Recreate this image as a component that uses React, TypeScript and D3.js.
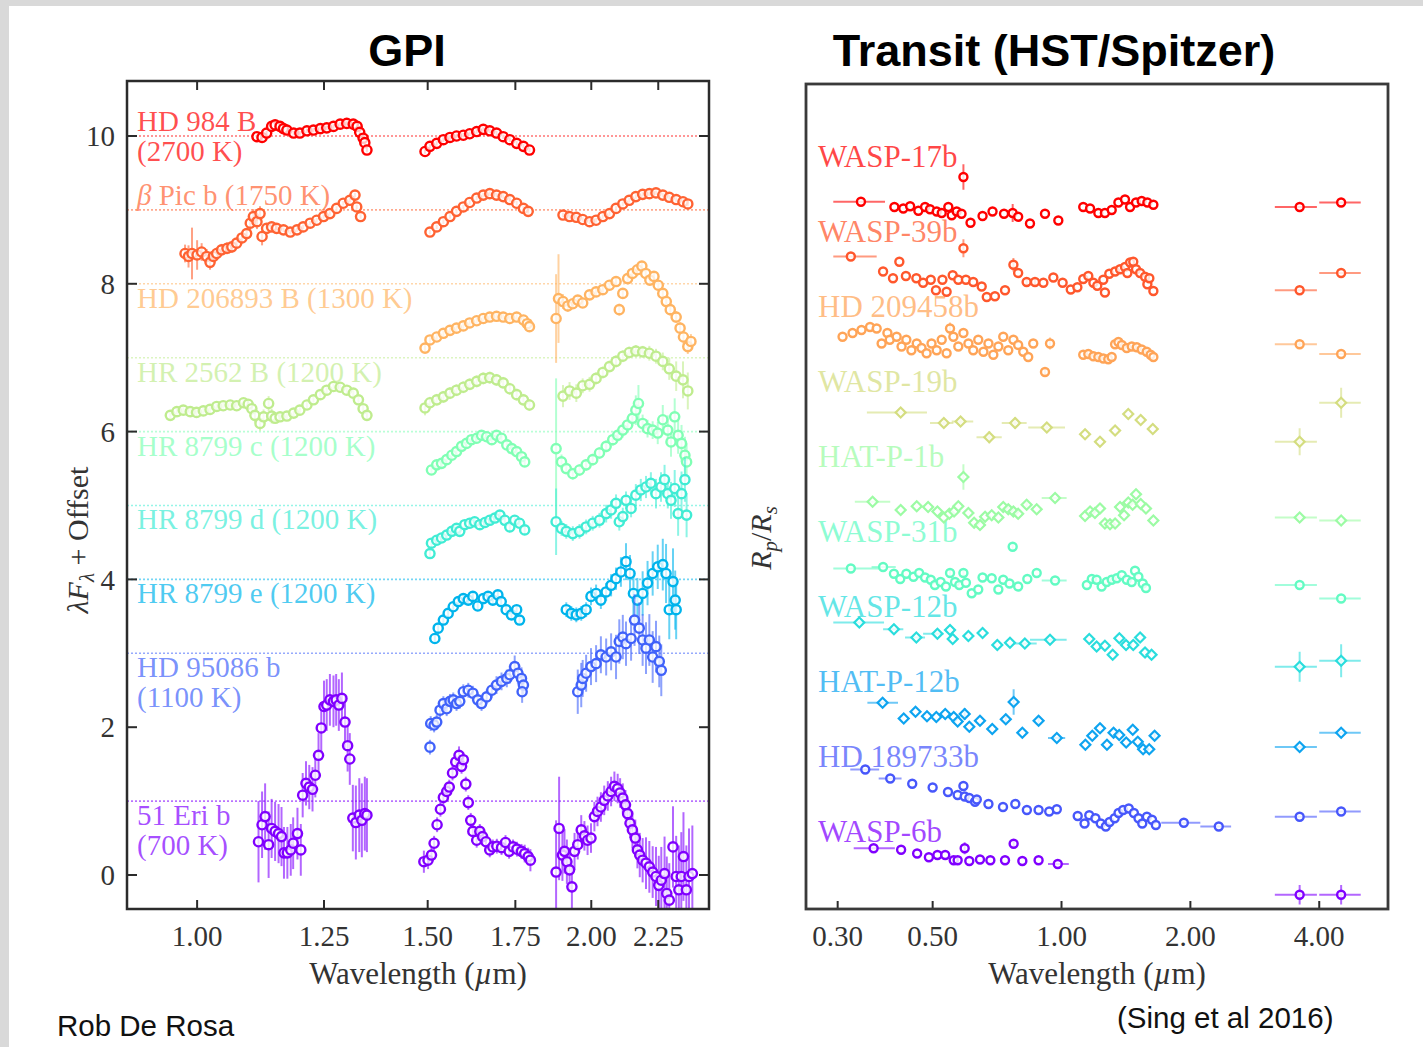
import React from 'react';
import * as d3 from 'd3';

// [wavelength (µm), λFλ + offset, error]
type Pt = [number, number, number];
// [wavelength (µm), Rp/Rs + offset, y error, optional band low, optional band high]
type TPt = number[];

// ---------------- GPI spectra ----------------
const GPI_NAMES = ['HD 984 B', 'β Pic b', 'HD 206893 B', 'HR 2562 B', 'HR 8799 c', 'HR 8799 d', 'HR 8799 e', 'HD 95086 b', '51 Eri b'];
const GPI_TEMPS = [2700, 1750, 1300, 1200, 1200, 1200, 1200, 1100, 700];
const GPI_OFFSETS = [10, 9, 8, 7, 6, 5, 4, 3, 1];

const HD984B_J: Pt[] = [[1.111,9.99,.03],[1.121,9.98,.03],[1.130,10.04,.03],[1.140,10.13,.03],[1.147,10.15,.03],[1.157,10.13,.03],[1.164,10.10,.03],[1.171,10.08,.03],[1.185,10.04,.03],[1.198,10.04,.03],[1.213,10.07,.03],[1.227,10.08,.03],[1.242,10.10,.03],[1.256,10.11,.03],[1.271,10.13,.03],[1.286,10.16,.03],[1.301,10.17,.03],[1.316,10.16,.03],[1.325,10.13,.03],[1.331,10.05,.03],[1.339,9.97,.03],[1.343,9.91,.03],[1.348,9.81,.03]];
const HD984B_H: Pt[] = [[1.493,9.79,.03],[1.506,9.86,.03],[1.524,9.90,.03],[1.542,9.95,.03],[1.560,9.98,.03],[1.578,10.00,.03],[1.597,10.01,.03],[1.615,10.03,.03],[1.635,10.06,.03],[1.654,10.09,.03],[1.673,10.07,.03],[1.693,10.04,.03],[1.713,9.99,.03],[1.733,9.95,.03],[1.754,9.90,.03],[1.775,9.86,.03],[1.794,9.81,.03]];

const BPIC_J: Pt[] = [[0.979,8.41,.12],[0.985,8.37,.15],[0.991,8.41,.35],[1.000,8.39,.2],[1.008,8.43,.12],[1.017,8.37,.1],[1.023,8.29,.1],[1.029,8.37,.08],[1.035,8.41,.08],[1.044,8.46,.08],[1.054,8.48,.08],[1.063,8.50,.08],[1.072,8.55,.07],[1.082,8.62,.07],[1.091,8.68,.07],[1.098,8.82,.1],[1.104,8.91,.1],[1.111,8.84,.1],[1.117,8.95,.1],[1.121,8.64,.12],[1.130,8.75,.03],[1.140,8.77,.03],[1.150,8.75,.03],[1.164,8.73,.03],[1.178,8.70,.03],[1.192,8.73,.03],[1.205,8.77,.03],[1.220,8.82,.03],[1.234,8.86,.03],[1.249,8.91,.03],[1.263,8.95,.03],[1.278,9.02,.03],[1.293,9.09,.03],[1.308,9.13,.03],[1.320,9.20,.03],[1.324,9.04,.03],[1.333,8.91,.03]];
const BPIC_H: Pt[] = [[1.506,8.70,.03],[1.524,8.77,.03],[1.542,8.84,.03],[1.560,8.91,.03],[1.578,8.98,.03],[1.597,9.04,.03],[1.615,9.10,.03],[1.635,9.16,.03],[1.654,9.20,.03],[1.673,9.22,.03],[1.693,9.20,.03],[1.713,9.18,.03],[1.733,9.14,.03],[1.754,9.09,.03],[1.775,9.02,.03],[1.790,8.98,.03]];
const BPIC_K: Pt[] = [[1.903,8.93,.03],[1.925,8.91,.03],[1.948,8.90,.03],[1.970,8.87,.03],[1.994,8.84,.03],[2.017,8.86,.03],[2.041,8.91,.03],[2.065,8.95,.03],[2.089,9.02,.03],[2.114,9.08,.03],[2.138,9.13,.03],[2.163,9.18,.03],[2.189,9.21,.03],[2.215,9.22,.03],[2.241,9.23,.03],[2.268,9.20,.03],[2.294,9.17,.03],[2.322,9.14,.03],[2.350,9.11,.03],[2.370,9.08,.03]];

const HD206893_H: Pt[] = [[1.493,7.13,.04],[1.506,7.24,.04],[1.524,7.28,.04],[1.542,7.33,.04],[1.560,7.37,.04],[1.578,7.40,.04],[1.597,7.43,.04],[1.615,7.47,.04],[1.635,7.50,.04],[1.654,7.53,.04],[1.673,7.55,.04],[1.693,7.56,.04],[1.713,7.55,.04],[1.733,7.53,.04],[1.754,7.55,.04],[1.775,7.51,.04],[1.787,7.46,.04],[1.794,7.42,.04]];
const HD206893_K: Pt[] = [[1.880,7.53,.6],[1.888,7.80,.6],[1.903,7.76,.1],[1.919,7.70,.08],[1.936,7.73,.06],[1.953,7.78,.06],[1.970,7.74,.06],[1.994,7.85,.05],[2.017,7.89,.05],[2.041,7.92,.05],[2.065,7.98,.05],[2.089,8.03,.05],[2.101,7.65,.08],[2.114,7.87,.06],[2.132,8.07,.05],[2.150,8.14,.05],[2.169,8.19,.05],[2.186,8.24,.05],[2.201,8.14,.06],[2.217,8.05,.06],[2.233,8.10,.06],[2.250,7.98,.06],[2.268,7.87,.07],[2.282,7.76,.07],[2.298,7.65,.08],[2.322,7.55,.08],[2.338,7.40,.08],[2.352,7.28,.1],[2.370,7.15,.1],[2.383,7.22,.1]];

const HR2562_J: Pt[] = [[0.954,6.22,.04],[0.965,6.27,.04],[0.976,6.29,.04],[0.988,6.27,.04],[0.999,6.26,.04],[1.011,6.28,.04],[1.023,6.30,.04],[1.035,6.34,.04],[1.047,6.35,.04],[1.060,6.36,.04],[1.072,6.35,.04],[1.085,6.39,.04],[1.094,6.37,.06],[1.101,6.31,.08],[1.107,6.22,.1],[1.117,6.11,.1],[1.124,6.20,.1],[1.134,6.38,.1],[1.140,6.21,.1],[1.147,6.18,.06],[1.157,6.20,.04],[1.171,6.21,.04],[1.185,6.25,.04],[1.198,6.29,.04],[1.213,6.36,.04],[1.227,6.43,.04],[1.242,6.50,.04],[1.256,6.56,.04],[1.271,6.61,.04],[1.286,6.60,.04],[1.301,6.56,.04],[1.316,6.52,.04],[1.328,6.43,.04],[1.339,6.31,.04],[1.348,6.22,.04]];
const HR2562_H: Pt[] = [[1.493,6.32,.1],[1.506,6.39,.08],[1.524,6.43,.08],[1.542,6.47,.08],[1.560,6.52,.08],[1.578,6.56,.08],[1.597,6.60,.08],[1.615,6.64,.08],[1.635,6.68,.08],[1.654,6.72,.08],[1.673,6.73,.08],[1.693,6.70,.08],[1.713,6.66,.08],[1.733,6.58,.08],[1.754,6.50,.08],[1.775,6.43,.08],[1.794,6.36,.08]];
const HR2562_K: Pt[] = [[1.903,6.48,.15],[1.925,6.55,.12],[1.948,6.52,.12],[1.970,6.62,.1],[1.994,6.64,.1],[2.017,6.72,.08],[2.041,6.80,.08],[2.065,6.88,.08],[2.089,6.95,.08],[2.114,7.02,.08],[2.138,7.07,.08],[2.163,7.09,.08],[2.189,7.08,.08],[2.215,7.06,.1],[2.241,7.02,.1],[2.268,6.95,.12],[2.294,6.85,.15],[2.322,6.75,.2],[2.350,6.70,.25],[2.370,6.55,.25]];

const HR8799C_H: Pt[] = [[1.510,5.48,.06],[1.524,5.55,.06],[1.537,5.57,.06],[1.551,5.62,.06],[1.565,5.68,.06],[1.578,5.73,.06],[1.592,5.80,.06],[1.606,5.84,.06],[1.620,5.89,.06],[1.635,5.91,.06],[1.649,5.95,.06],[1.664,5.93,.06],[1.679,5.89,.06],[1.693,5.95,.06],[1.708,5.91,.06],[1.724,5.82,.06],[1.739,5.77,.06],[1.754,5.73,.06],[1.769,5.66,.06],[1.779,5.59,.06]];
const HR8799C_K: Pt[] = [[1.880,5.77,.95],[1.898,5.59,.1],[1.914,5.50,.08],[1.936,5.43,.08],[1.959,5.48,.08],[1.982,5.55,.08],[2.005,5.62,.08],[2.029,5.71,.08],[2.053,5.80,.08],[2.077,5.89,.08],[2.095,5.95,.08],[2.114,6.02,.1],[2.132,6.09,.1],[2.150,6.18,.1],[2.163,6.29,.2],[2.173,6.38,.25],[2.189,6.11,.12],[2.208,6.04,.12],[2.228,6.02,.12],[2.248,5.98,.15],[2.268,6.16,.2],[2.288,6.02,.2],[2.301,5.86,.2],[2.316,6.20,.25],[2.330,5.95,.25],[2.344,5.84,.25],[2.358,5.68,.25],[2.365,5.59,.25]];

const HR8799D_H: Pt[] = [[1.506,4.35,.06],[1.510,4.49,.06],[1.524,4.53,.06],[1.537,4.56,.06],[1.551,4.60,.06],[1.565,4.65,.06],[1.578,4.69,.06],[1.587,4.65,.06],[1.601,4.74,.06],[1.615,4.76,.06],[1.629,4.78,.06],[1.644,4.74,.06],[1.659,4.77,.06],[1.673,4.80,.06],[1.688,4.83,.06],[1.703,4.87,.06],[1.718,4.80,.06],[1.733,4.71,.06],[1.748,4.80,.06],[1.763,4.76,.06],[1.779,4.67,.06]];
const HR8799D_K: Pt[] = [[1.880,4.78,.45],[1.898,4.69,.1],[1.914,4.65,.1],[1.936,4.62,.1],[1.959,4.65,.1],[1.982,4.71,.1],[2.005,4.76,.1],[2.029,4.80,.1],[2.053,4.89,.12],[2.071,4.94,.12],[2.089,5.03,.12],[2.101,4.78,.12],[2.114,4.85,.12],[2.126,5.07,.12],[2.145,4.96,.12],[2.163,5.14,.15],[2.182,5.21,.15],[2.202,5.25,.15],[2.221,5.30,.15],[2.241,5.16,.2],[2.261,5.25,.2],[2.275,5.35,.2],[2.288,5.16,.2],[2.301,5.07,.25],[2.316,5.23,.25],[2.330,4.89,.3],[2.344,5.16,.3],[2.358,5.35,.3],[2.365,4.87,.3]];

const HR8799E_H: Pt[] = [[1.519,3.20,.06],[1.528,3.34,.06],[1.542,3.45,.06],[1.555,3.54,.06],[1.569,3.63,.06],[1.583,3.70,.06],[1.597,3.74,.06],[1.611,3.72,.06],[1.624,3.77,.06],[1.638,3.64,.06],[1.654,3.74,.06],[1.668,3.77,.06],[1.682,3.72,.06],[1.697,3.79,.06],[1.707,3.70,.06],[1.722,3.59,.06],[1.738,3.52,.06],[1.754,3.59,.06],[1.763,3.45,.06]];
const HR8799E_K: Pt[] = [[1.914,3.59,.1],[1.931,3.54,.1],[1.948,3.52,.1],[1.965,3.54,.1],[1.982,3.59,.1],[1.999,3.77,.12],[2.017,3.81,.12],[2.034,3.72,.12],[2.053,3.83,.12],[2.071,3.92,.15],[2.089,4.01,.15],[2.107,4.10,.2],[2.126,4.24,.25],[2.141,4.08,.25],[2.154,3.81,.3],[2.169,3.72,.3],[2.189,3.81,.3],[2.208,3.95,.3],[2.228,4.08,.3],[2.248,4.17,.3],[2.268,4.20,.35],[2.281,4.08,.4],[2.294,3.59,.4],[2.309,3.97,.45],[2.318,3.72,.4],[2.322,3.59,.4]];

const HD95086_H: Pt[] = [[1.506,1.73,.1],[1.508,2.05,.1],[1.517,2.03,.1],[1.524,2.07,.1],[1.533,2.23,.1],[1.542,2.32,.1],[1.551,2.25,.1],[1.560,2.35,.1],[1.569,2.37,.1],[1.578,2.32,.1],[1.587,2.35,.1],[1.597,2.48,.1],[1.611,2.50,.1],[1.624,2.46,.1],[1.638,2.37,.1],[1.649,2.32,.1],[1.664,2.41,.1],[1.679,2.50,.1],[1.693,2.57,.12],[1.708,2.62,.12],[1.724,2.66,.12],[1.733,2.71,.12],[1.748,2.82,.15],[1.758,2.73,.15],[1.769,2.66,.15],[1.775,2.57,.15],[1.771,2.48,.15]];
const HD95086_K: Pt[] = [[1.953,2.48,.3],[1.965,2.57,.3],[1.970,2.66,.25],[1.982,2.73,.25],[1.999,2.82,.25],[2.017,2.86,.25],[2.034,2.98,.25],[2.053,2.95,.25],[2.071,3.02,.25],[2.089,2.95,.3],[2.101,3.16,.3],[2.114,3.22,.3],[2.126,3.13,.3],[2.145,3.20,.3],[2.158,3.45,.35],[2.176,3.34,.35],[2.189,3.18,.35],[2.202,3.07,.35],[2.215,3.18,.35],[2.228,2.95,.35],[2.241,3.09,.35],[2.254,2.89,.35],[2.262,2.77,.35]];

const ERI51_J: Pt[] = [[1.114,0.45,.55],[1.121,0.68,.45],[1.127,0.79,.45],[1.134,0.41,.45],[1.140,0.63,.4],[1.147,0.59,.4],[1.154,0.56,.4],[1.160,0.52,.4],[1.165,0.30,.35],[1.172,0.30,.35],[1.179,0.34,.35],[1.184,0.43,.35],[1.193,0.56,.35],[1.200,0.34,.35],[1.204,1.08,.3],[1.211,1.24,.3],[1.218,1.19,.3],[1.225,1.16,.3],[1.231,1.35,.3],[1.238,1.62,.3],[1.244,1.99,.35],[1.250,2.28,.35],[1.256,2.30,.35],[1.263,2.37,.35],[1.271,2.35,.35],[1.277,2.37,.35],[1.283,2.30,.35],[1.290,2.39,.35],[1.297,2.07,.35],[1.303,1.75,.35],[1.308,1.57,.35],[1.315,0.77,.45],[1.322,0.71,.5],[1.330,0.81,.5],[1.336,0.74,.5],[1.343,0.83,.5],[1.348,0.81,.5]];
const ERI51_H: Pt[] = [[1.490,0.18,.15],[1.501,0.20,.12],[1.510,0.27,.1],[1.517,0.43,.1],[1.525,0.68,.1],[1.534,0.89,.1],[1.542,1.05,.1],[1.551,1.13,.1],[1.558,1.19,.1],[1.567,1.38,.1],[1.576,1.53,.1],[1.585,1.62,.12],[1.592,1.47,.1],[1.597,1.56,.1],[1.604,1.23,.1],[1.611,0.98,.1],[1.618,0.74,.1],[1.624,0.59,.1],[1.635,0.47,.1],[1.644,0.59,.1],[1.652,0.52,.1],[1.662,0.45,.1],[1.673,0.34,.1],[1.682,0.38,.1],[1.694,0.39,.1],[1.708,0.37,.1],[1.720,0.44,.1],[1.731,0.32,.1],[1.743,0.38,.1],[1.755,0.35,.1],[1.769,0.32,.1],[1.779,0.29,.12],[1.790,0.25,.12],[1.797,0.20,.15]];
const ERI51_K: Pt[] = [[1.880,0.04,.7],[1.890,0.63,.7],[1.901,0.27,.35],[1.908,0.32,.3],[1.916,0.18,.3],[1.925,0.07,.3],[1.933,-0.16,.3],[1.942,0.32,.25],[1.953,0.41,.2],[1.965,0.61,.2],[1.976,0.53,.2],[1.987,0.47,.2],[1.999,0.50,.2],[2.011,0.79,.2],[2.022,0.86,.2],[2.034,0.92,.2],[2.046,1.01,.2],[2.059,1.07,.2],[2.071,1.13,.2],[2.083,1.20,.2],[2.095,1.17,.2],[2.104,1.11,.2],[2.114,1.04,.2],[2.124,0.95,.2],[2.132,0.83,.2],[2.141,0.70,.2],[2.150,0.61,.25],[2.161,0.50,.25],[2.169,0.34,.25],[2.178,0.27,.3],[2.189,0.20,.3],[2.202,0.16,.35],[2.215,0.11,.35],[2.228,0.04,.35],[2.241,-0.02,.4],[2.252,-0.14,.4],[2.262,-0.07,.45],[2.275,0.02,.5],[2.284,-0.25,.5],[2.294,-0.34,.5],[2.309,0.38,.55],[2.322,-0.02,.55],[2.333,-0.20,.6],[2.343,-0.02,.6],[2.352,0.25,.6],[2.364,-0.20,.6],[2.375,-0.02,.65],[2.389,0.02,.65]];

const GPI_SPECTRA: Pt[][][] = [
  [HD984B_J, HD984B_H],
  [BPIC_J, BPIC_H, BPIC_K],
  [HD206893_H, HD206893_K],
  [HR2562_J, HR2562_H, HR2562_K],
  [HR8799C_H, HR8799C_K],
  [HR8799D_H, HR8799D_K],
  [HR8799E_H, HR8799E_K],
  [HD95086_H, HD95086_K],
  [ERI51_J, ERI51_H, ERI51_K],
];
const GPI_XTICKS = [1.0, 1.25, 1.5, 1.75, 2.0, 2.25];
const GPI_YTICKS = [0, 2, 4, 6, 8, 10];

// ---------------- Transit spectra ----------------
const TRANSIT_NAMES = ['WASP-17b', 'WASP-39b', 'HD 209458b', 'WASP-19b', 'HAT-P-1b', 'WASP-31b', 'WASP-12b', 'HAT-P-12b', 'HD 189733b', 'WASP-6b'];
const TRANSIT_MARKERS = ['o', 'o', 'o', 'D', 'D', 'o', 'D', 'D', 'o', 'o'];

const WASP17B: TPt[] = [[0.340,9.43,0.02,0.293,0.387],[0.407,9.36,0.02],[0.427,9.34,0.02],[0.443,9.37,0.02],[0.463,9.31,0.02],[0.480,9.36,0.02],[0.493,9.33,0.02],[0.511,9.30,0.02],[0.525,9.28,0.02],[0.544,9.36,0.02],[0.554,9.25,0.02],[0.569,9.30,0.02],[0.584,9.27,0.02],[0.590,9.76,0.17],[0.613,9.15,0.03],[0.654,9.24,0.03],[0.690,9.30,0.03],[0.734,9.27,0.03],[0.769,9.28,0.12],[0.792,9.23,0.03],[0.844,9.14,0.03],[0.915,9.27,0.03],[0.983,9.18,0.03],[1.124,9.36,0.02],[1.166,9.34,0.02],[1.219,9.28,0.02],[1.263,9.28,0.02],[1.310,9.32,0.02],[1.358,9.42,0.02],[1.407,9.46,0.02],[1.446,9.36,0.02],[1.493,9.42,0.02],[1.539,9.44,0.02],[1.587,9.42,0.02],[1.639,9.39,0.02],[3.6,9.36,0.02,3.15,3.95],[4.5,9.42,0.02,4.0,5.0]];
const WASP39B: TPt[] = [[0.322,8.70,0.02,0.293,0.370],[0.383,8.50,0.03],[0.404,8.41,0.03],[0.418,8.63,0.03],[0.433,8.44,0.03],[0.458,8.41,0.03],[0.475,8.35,0.03],[0.495,8.39,0.03],[0.509,8.25,0.03],[0.527,8.39,0.03],[0.539,8.23,0.03],[0.557,8.45,0.03],[0.574,8.39,0.03],[0.590,8.81,0.12],[0.598,8.39,0.03],[0.622,8.36,0.03],[0.651,8.30,0.03],[0.669,8.16,0.03],[0.699,8.17,0.03],[0.738,8.25,0.03],[0.772,8.59,0.09],[0.792,8.48,0.03],[0.829,8.36,0.06],[0.867,8.36,0.06],[0.907,8.35,0.03],[0.957,8.42,0.03],[1.006,8.35,0.03],[1.051,8.26,0.03],[1.089,8.29,0.03],[1.124,8.40,0.03],[1.155,8.44,0.03],[1.187,8.35,0.03],[1.212,8.31,0.03],[1.252,8.39,0.03],[1.263,8.22,0.03],[1.293,8.47,0.03],[1.334,8.50,0.03],[1.370,8.53,0.03],[1.407,8.56,0.03],[1.425,8.48,0.03],[1.446,8.62,0.03],[1.471,8.63,0.03],[1.493,8.53,0.03],[1.526,8.48,0.03],[1.567,8.43,0.03],[1.587,8.33,0.03],[1.604,8.41,0.03],[1.639,8.24,0.03],[3.6,8.25,0.02,3.15,3.95],[4.5,8.48,0.02,4.0,5.0]];
const HD209458B: TPt[] = [[0.308,7.63,0.03],[0.325,7.68,0.03],[0.341,7.72,0.03],[0.357,7.76,0.03],[0.370,7.74,0.03],[0.380,7.54,0.03],[0.392,7.68,0.03],[0.397,7.59,0.03],[0.412,7.63,0.03],[0.423,7.50,0.03],[0.434,7.59,0.03],[0.446,7.45,0.03],[0.459,7.54,0.03],[0.471,7.48,0.03],[0.484,7.41,0.03],[0.497,7.54,0.03],[0.511,7.45,0.03],[0.525,7.59,0.03],[0.539,7.41,0.03],[0.549,7.74,0.08],[0.559,7.63,0.03],[0.574,7.50,0.03],[0.590,7.68,0.03],[0.606,7.54,0.03],[0.622,7.45,0.03],[0.639,7.59,0.03],[0.657,7.43,0.03],[0.675,7.54,0.03],[0.693,7.39,0.03],[0.712,7.50,0.03],[0.731,7.63,0.03],[0.751,7.45,0.03],[0.772,7.59,0.03],[0.792,7.52,0.03],[0.814,7.43,0.03],[0.836,7.36,0.03],[0.859,7.54,0.03],[0.915,7.16,0.05],[0.940,7.54,0.08],[1.124,7.39,0.02],[1.155,7.40,0.02],[1.187,7.37,0.02],[1.219,7.36,0.02],[1.252,7.34,0.02],[1.286,7.33,0.02],[1.310,7.36,0.02],[1.334,7.53,0.02],[1.358,7.56,0.02],[1.383,7.52,0.02],[1.420,7.48,0.02],[1.459,7.50,0.02],[1.499,7.49,0.02],[1.539,7.46,0.02],[1.581,7.43,0.02],[1.615,7.39,0.02],[1.639,7.36,0.02],[3.6,7.53,0.04,3.15,3.95],[4.5,7.40,0.02,4.0,5.0]];
const WASP19B: TPt[] = [[0.421,6.62,0.03,0.351,0.485],[0.531,6.48,0.04,0.493,0.559],[0.581,6.50,0.04,0.554,0.622],[0.678,6.29,0.08,0.633,0.725],[0.779,6.48,0.08,0.725,0.829],[0.924,6.42,0.06,0.836,1.019],[1.135,6.33,0.02],[1.230,6.23,0.02],[1.334,6.38,0.02],[1.432,6.60,0.02],[1.531,6.52,0.02],[1.634,6.40,0.02],[3.6,6.23,0.18,3.15,3.95],[4.5,6.75,0.2,4.0,5.0]];
const HATP1B: TPt[] = [[0.362,5.43,0.02,0.329,0.398],[0.421,5.32,0.02],[0.459,5.37,0.02],[0.488,5.36,0.02],[0.513,5.30,0.02],[0.531,5.22,0.02],[0.547,5.27,0.02],[0.561,5.30,0.02],[0.574,5.37,0.02],[0.590,5.76,0.17],[0.606,5.28,0.02],[0.625,5.15,0.02],[0.645,5.12,0.02],[0.663,5.23,0.02],[0.687,5.25,0.02],[0.712,5.22,0.02],[0.731,5.36,0.02],[0.751,5.33,0.02],[0.772,5.30,0.02],[0.792,5.27,0.02],[0.829,5.39,0.04],[0.875,5.33,0.02],[0.966,5.48,0.02,0.899,1.028],[1.135,5.24,0.02],[1.166,5.30,0.02],[1.197,5.28,0.02],[1.230,5.34,0.02],[1.263,5.14,0.02],[1.298,5.13,0.02],[1.334,5.14,0.02],[1.370,5.36,0.02],[1.400,5.25,0.02],[1.432,5.42,0.02],[1.466,5.39,0.02],[1.493,5.53,0.02],[1.531,5.40,0.02],[1.575,5.34,0.02],[1.639,5.18,0.02],[3.6,5.22,0.02,3.15,3.95],[4.5,5.18,0.02,4.0,5.0]];
const WASP31B: TPt[] = [[0.322,4.54,0.02,0.293,0.377],[0.383,4.56,0.02,0.360,0.410],[0.406,4.47,0.02],[0.420,4.40,0.02],[0.434,4.47,0.02],[0.451,4.43,0.02],[0.465,4.48,0.02],[0.480,4.42,0.02],[0.495,4.39,0.02],[0.506,4.32,0.02],[0.522,4.36,0.02],[0.537,4.30,0.02],[0.549,4.48,0.05],[0.564,4.36,0.02],[0.577,4.32,0.02],[0.590,4.48,0.06],[0.598,4.35,0.02],[0.617,4.21,0.02],[0.639,4.26,0.02],[0.654,4.42,0.02],[0.687,4.41,0.02],[0.712,4.26,0.02],[0.731,4.39,0.02],[0.756,4.34,0.02],[0.769,4.83,0.06],[0.792,4.30,0.02],[0.832,4.40,0.02],[0.875,4.48,0.02],[0.966,4.38,0.02,0.899,1.028],[1.146,4.32,0.02],[1.177,4.40,0.02],[1.208,4.39,0.02],[1.241,4.30,0.02],[1.275,4.36,0.02],[1.310,4.39,0.02],[1.346,4.41,0.02],[1.383,4.45,0.02],[1.420,4.39,0.02],[1.459,4.36,0.02],[1.485,4.51,0.02],[1.512,4.43,0.02],[1.548,4.34,0.02],[1.575,4.28,0.02],[3.6,4.32,0.02,3.15,3.95],[4.5,4.14,0.02,4.0,5.0]];
const WASP12B: TPt[] = [[0.337,3.82,0.03,0.293,0.385],[0.406,3.73,0.02,0.383,0.427],[0.458,3.62,0.02,0.431,0.480],[0.513,3.67,0.02,0.475,0.530],[0.549,3.72,0.02],[0.557,3.60,0.02],[0.606,3.64,0.02],[0.654,3.68,0.02],[0.708,3.52,0.02],[0.758,3.55,0.02],[0.821,3.54,0.02,0.772,0.875],[0.940,3.59,0.02,0.844,1.028],[1.161,3.60,0.02],[1.208,3.50,0.02],[1.263,3.51,0.02],[1.317,3.39,0.02],[1.365,3.61,0.02],[1.415,3.52,0.02],[1.471,3.52,0.02],[1.526,3.62,0.02],[1.567,3.42,0.02],[1.623,3.39,0.02],[3.6,3.23,0.2,3.15,3.95],[4.5,3.31,0.22,4.0,5.0]];
const HATP12B: TPt[] = [[0.382,2.75,0.03,0.352,0.415],[0.428,2.54,0.02],[0.456,2.63,0.02],[0.485,2.57,0.02],[0.510,2.56,0.02],[0.535,2.60,0.02],[0.560,2.56,0.02],[0.572,2.50,0.02],[0.594,2.60,0.08],[0.609,2.43,0.02],[0.645,2.51,0.02],[0.689,2.40,0.02],[0.741,2.53,0.04],[0.773,2.76,0.17],[0.810,2.35,0.02],[0.884,2.51,0.05],[0.975,2.28,0.02,0.93,1.02],[1.137,2.19,0.03],[1.180,2.31,0.03],[1.230,2.41,0.03],[1.277,2.19,0.03],[1.323,2.35,0.03],[1.364,2.32,0.03],[1.416,2.22,0.03],[1.467,2.39,0.03],[1.507,2.23,0.03],[1.551,2.13,0.03],[1.603,2.13,0.03],[1.650,2.31,0.05],[3.6,2.16,0.03,3.15,3.95],[4.5,2.35,0.03,4.0,5.0]];
const HD189733B: TPt[] = [[0.348,1.86,0.02,0.321,0.375],[0.398,1.74,0.02,0.374,0.423],[0.448,1.67,0.02],[0.500,1.62,0.02],[0.543,1.56,0.02],[0.572,1.52,0.02],[0.590,1.64,0.03],[0.594,1.50,0.02],[0.609,1.48,0.02],[0.628,1.43,0.02],[0.634,1.46,0.02],[0.675,1.40,0.02],[0.730,1.36,0.02],[0.780,1.40,0.02],[0.830,1.32,0.02],[0.884,1.32,0.02],[0.936,1.30,0.02],[0.975,1.33,0.02],[1.091,1.24,0.02],[1.132,1.14,0.02],[1.161,1.25,0.02],[1.200,1.21,0.02],[1.235,1.14,0.02],[1.269,1.10,0.02],[1.295,1.16,0.02],[1.331,1.21,0.02],[1.359,1.28,0.02],[1.393,1.32,0.02],[1.436,1.34,0.02],[1.476,1.28,0.02],[1.513,1.21,0.02],[1.544,1.14,0.02],[1.583,1.23,0.02],[1.627,1.19,0.02],[1.661,1.12,0.02],[1.931,1.15,0.02,1.71,2.11],[2.33,1.10,0.02,2.11,2.49],[3.6,1.23,0.02,3.15,3.95],[4.5,1.30,0.02,4.0,5.0]];
const WASP6B: TPt[] = [[0.364,0.81,0.02,0.327,0.408],[0.422,0.79,0.02],[0.460,0.74,0.02],[0.490,0.69,0.02],[0.513,0.72,0.02],[0.535,0.72,0.02],[0.560,0.65,0.02],[0.572,0.65,0.02],[0.594,0.81,0.08],[0.609,0.64,0.02],[0.645,0.66,0.02],[0.682,0.65,0.02],[0.738,0.65,0.02],[0.773,0.87,0.06],[0.810,0.64,0.02],[0.884,0.65,0.02],[0.980,0.60,0.02,0.93,1.04],[3.6,0.19,0.13,3.15,3.95],[4.5,0.19,0.13,4.0,5.0]];

const TRANSIT_SPECTRA: TPt[][] = [WASP17B, WASP39B, HD209458B, WASP19B, HATP1B, WASP31B, WASP12B, HATP12B, HD189733B, WASP6B];
const TRANSIT_XTICKS = [0.3, 0.5, 1.0, 2.0, 4.0];

// ---------------- drawing ----------------
const W = 1423;
const H = 1047;
const SERIF = '"Liberation Serif", "DejaVu Serif", serif';
const SANS = '"Liberation Sans", Arial, Helvetica, sans-serif';
const FRAME = '#2b2b2b';
const TICK_TEXT = '#333';

// matplotlib-style "rainbow" colormap (purple -> red)
function rainbow(t: number): string {
  const r = Math.min(1, Math.abs(2 * t - 0.5));
  const g = Math.max(0, Math.sin(Math.PI * t));
  const b = Math.max(0, Math.cos((Math.PI * t) / 2));
  return d3.rgb(r * 255, g * 255, b * 255).formatHex();
}

function Label({ x, y, text, color, size, opacity }: { x: number; y: number; text: string; color: string; size: number; opacity: number }) {
  const greek = text.startsWith('β');
  return (
    <text x={x} y={y} fill={color} fillOpacity={opacity} fontFamily={SERIF} fontSize={size}>
      {greek ? (
        <>
          <tspan fontStyle="italic">β</tspan>
          <tspan>{text.slice(1)}</tspan>
        </>
      ) : (
        text
      )}
    </text>
  );
}

export default function App() {
  const gx = d3.scaleLog().domain([0.884, 2.46]).range([127, 709]);
  const gy = d3.scaleLinear().domain([-0.46, 10.744]).range([909, 81]);
  const tx = d3.scaleLog().domain([0.253, 5.79]).range([806, 1388]);
  const ty = d3.scaleLinear().domain([0, 11]).range([909, 84]);
  const fmt = d3.format('.2f');

  const gX0 = gx.range()[0], gX1 = gx.range()[1];
  const gY0 = gy.range()[1], gY1 = gy.range()[0];
  const tX0 = tx.range()[0], tX1 = tx.range()[1];
  const tY0 = ty.range()[1], tY1 = ty.range()[0];

  const nG = GPI_NAMES.length;
  const nT = TRANSIT_NAMES.length;
  const diamond = d3.symbol().type(d3.symbolSquare).size(50)();

  // label placement relative to each object's offset line (px)
  const gpiLabelDy = (i: number) => (i < 2 ? -5 : 24);
  const gpiWrap = [true, false, false, false, false, false, false, true, true];

  return (
    <svg width={W} height={H} viewBox={`0 0 ${W} ${H}`} style={{ position: 'absolute', left: 0, top: 0, background: '#fff' }}>
      <defs>
        <clipPath id="gpiClip">
          <rect x={gX0} y={gY0} width={gX1 - gX0} height={gY1 - gY0} />
        </clipPath>
        <clipPath id="trClip">
          <rect x={tX0} y={tY0} width={tX1 - tX0} height={tY1 - tY0} />
        </clipPath>
      </defs>
      <rect x={0} y={0} width={W} height={H} fill="#fff" />
      <rect x={0} y={0} width={W} height={6} fill="#d9d9d9" />
      <rect x={0} y={0} width={9} height={H} fill="#d9d9d9" />

      {/* titles */}
      <text x={407} y={66} textAnchor="middle" fontFamily={SANS} fontWeight="bold" fontSize={45} fill="#000">GPI</text>
      <text x={1054} y={66} textAnchor="middle" fontFamily={SANS} fontWeight="bold" fontSize={45} fill="#000">Transit (HST/Spitzer)</text>

      {/* ---------- GPI panel ---------- */}
      <g clipPath="url(#gpiClip)">
        {GPI_OFFSETS.map((o, i) => (
          <line key={`off${i}`} x1={gX0} x2={gX1} y1={gy(o)} y2={gy(o)} stroke={rainbow((nG - 1 - i) / (nG - 1))} strokeOpacity={0.55} strokeWidth={1.6} strokeDasharray="2,2" />
        ))}
        {GPI_NAMES.map((name, i) => {
          const c = rainbow((nG - 1 - i) / (nG - 1));
          const base = gy(GPI_OFFSETS[i]) + gpiLabelDy(i);
          const temp = `(${GPI_TEMPS[i]} K)`;
          return gpiWrap[i] ? (
            <g key={`lab${i}`}>
              <Label x={137} y={base} text={name} color={c} size={29} opacity={0.7} />
              <Label x={137} y={base + 30} text={temp} color={c} size={29} opacity={0.7} />
            </g>
          ) : (
            <Label key={`lab${i}`} x={137} y={base} text={`${name} ${temp}`} color={c} size={29} opacity={0.7} />
          );
        })}
        {GPI_SPECTRA.map((segs, i) => {
          const c = rainbow((nG - 1 - i) / (nG - 1));
          return (
            <g key={`spec${i}`}>
              {segs.map((seg, s) =>
                seg.map((p, k) => (
                  <line key={`e${s}-${k}`} x1={gx(p[0])} x2={gx(p[0])} y1={gy(p[1] - p[2])} y2={gy(p[1] + p[2])} stroke={c} strokeOpacity={0.6} strokeWidth={2} />
                ))
              )}
              {segs.map((seg, s) =>
                seg.map((p, k) => (
                  <circle key={`m${s}-${k}`} cx={gx(p[0])} cy={gy(p[1])} r={4.6} fill="#fff" fillOpacity={0.75} stroke={c} strokeWidth={2.4} />
                ))
              )}
            </g>
          );
        })}
      </g>

      {/* GPI ticks */}
      {GPI_YTICKS.map((t) => (
        <g key={`gyt${t}`}>
          <line x1={gX0} x2={gX0 + 10} y1={gy(t)} y2={gy(t)} stroke={FRAME} strokeWidth={2} />
          <line x1={gX1 - 10} x2={gX1} y1={gy(t)} y2={gy(t)} stroke={FRAME} strokeWidth={2} />
          <text x={115} y={gy(t)} dy="0.35em" textAnchor="end" fontFamily={SERIF} fontSize={29} fill={TICK_TEXT}>{t}</text>
        </g>
      ))}
      {GPI_XTICKS.map((t) => (
        <g key={`gxt${t}`}>
          <line x1={gx(t)} x2={gx(t)} y1={gY1} y2={gY1 - 9} stroke={FRAME} strokeWidth={2} />
          <line x1={gx(t)} x2={gx(t)} y1={gY0} y2={gY0 + 9} stroke={FRAME} strokeWidth={2} />
          <text x={gx(t)} y={946} textAnchor="middle" fontFamily={SERIF} fontSize={29} fill={TICK_TEXT}>{fmt(t)}</text>
        </g>
      ))}
      <rect x={gX0} y={gY0} width={gX1 - gX0} height={gY1 - gY0} fill="none" stroke={FRAME} strokeWidth={2.5} />
      <text x={(gX0 + gX1) / 2} y={984} textAnchor="middle" fontFamily={SERIF} fontSize={31} fill={TICK_TEXT}>
        Wavelength (<tspan fontStyle="italic">µ</tspan>m)
      </text>
      <text transform={`translate(88,540) rotate(-90)`} textAnchor="middle" fontFamily={SERIF} fontSize={30} fill={TICK_TEXT}>
        <tspan fontStyle="italic">λF</tspan>
        <tspan fontStyle="italic" fontSize={21} dy={6}>λ</tspan>
        <tspan dy={-6}> + Offset</tspan>
      </text>

      {/* ---------- Transit panel ---------- */}
      <g clipPath="url(#trClip)">
        {TRANSIT_NAMES.map((name, i) => (
          <text key={`tl${i}`} x={818} y={ty(nT - 1 - i + 0.9)} fill={rainbow((nT - 1 - i) / (nT - 1))} fillOpacity={0.72} fontFamily={SERIF} fontSize={31}>{name}</text>
        ))}
        {TRANSIT_SPECTRA.map((pts, i) => {
          const c = rainbow((nT - 1 - i) / (nT - 1));
          return (
            <g key={`ts${i}`}>
              {pts.map((p, k) => (
                <g key={`te${k}`} stroke={c} strokeOpacity={0.6} strokeWidth={2}>
                  {p[2] > 0.035 && <line x1={tx(p[0])} x2={tx(p[0])} y1={ty(p[1] - p[2])} y2={ty(p[1] + p[2])} />}
                  {p.length > 3 && <line x1={tx(p[3])} x2={tx(p[4])} y1={ty(p[1])} y2={ty(p[1])} />}
                </g>
              ))}
              {pts.map((p, k) =>
                TRANSIT_MARKERS[i] === 'D' ? (
                  <path key={`tm${k}`} d={diamond as string} transform={`translate(${tx(p[0])},${ty(p[1])}) rotate(45)`} fill="#fff" fillOpacity={0.8} stroke={c} strokeWidth={2.2} />
                ) : (
                  <circle key={`tm${k}`} cx={tx(p[0])} cy={ty(p[1])} r={4} fill="#fff" fillOpacity={0.8} stroke={c} strokeWidth={2.4} />
                )
              )}
            </g>
          );
        })}
      </g>
      {TRANSIT_XTICKS.map((t) => (
        <g key={`txt${t}`}>
          <line x1={tx(t)} x2={tx(t)} y1={tY1} y2={tY1 - 8} stroke={FRAME} strokeWidth={2} />
          <text x={tx(t)} y={946} textAnchor="middle" fontFamily={SERIF} fontSize={29} fill={TICK_TEXT}>{fmt(t)}</text>
        </g>
      ))}
      <rect x={tX0} y={tY0} width={tX1 - tX0} height={tY1 - tY0} fill="none" stroke="#3a3a3a" strokeWidth={2.8} />
      <text x={(tX0 + tX1) / 2} y={984} textAnchor="middle" fontFamily={SERIF} fontSize={31} fill={TICK_TEXT}>
        Wavelength (<tspan fontStyle="italic">µ</tspan>m)
      </text>
      <text transform={`translate(771,538) rotate(-90)`} textAnchor="middle" fontFamily={SERIF} fontSize={30} fill={TICK_TEXT}>
        <tspan fontStyle="italic">R</tspan>
        <tspan fontStyle="italic" fontSize={21} dy={6}>p</tspan>
        <tspan dy={-6}>/</tspan>
        <tspan fontStyle="italic">R</tspan>
        <tspan fontStyle="italic" fontSize={21} dy={6}>s</tspan>
      </text>

      {/* credits */}
      <text x={57} y={1036} fontFamily={SANS} fontSize={29.5} fill="#111">Rob De Rosa</text>
      <text x={1117} y={1028} fontFamily={SANS} fontSize={29.5} fill="#111">(Sing et al 2016)</text>
    </svg>
  );
}
